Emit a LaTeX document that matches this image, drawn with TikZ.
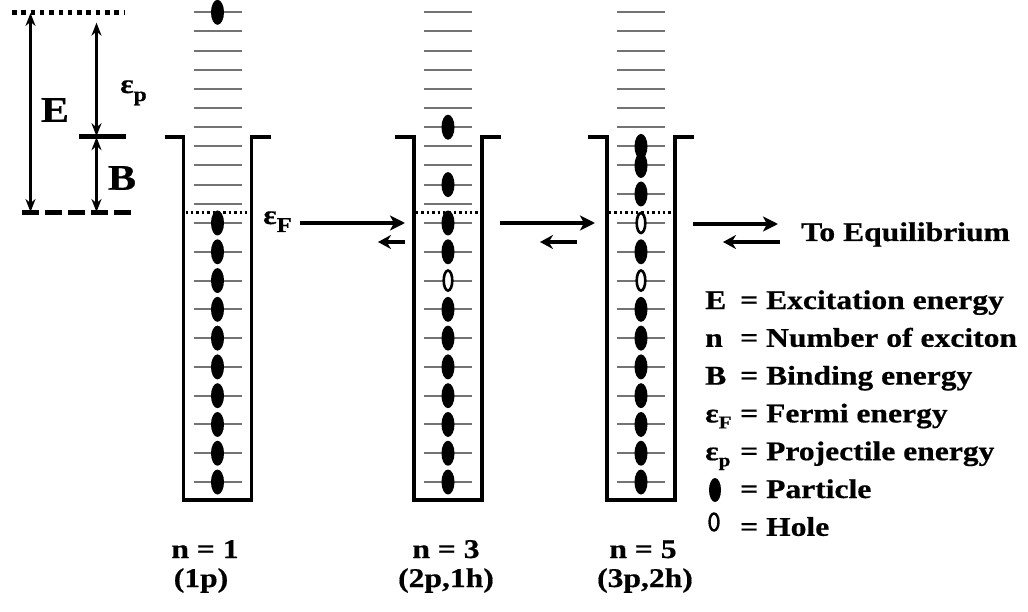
\documentclass[tikz,border=0pt]{standalone}
\usepackage{fontspec}
\setmainfont{Liberation Serif}[FakeStretch=1.17,FakeBold=0.6]
\usetikzlibrary{arrows.meta}

\begin{document}
\begin{tikzpicture}[x=1pt,y=-1pt,
  level/.style={draw=black!55, line width=2pt},
  wall/.style={draw=black, line width=3.6pt, line join=miter},
  fermi/.style={draw=black, line width=2.3pt, dash pattern=on 2.4pt off 3pt},
  hole/.style={draw=black, fill=white, line width=2.6pt},
  scalearrow/.style={line width=2.8pt, {Stealth[length=13pt,width=10pt]}-{Stealth[length=13pt,width=10pt]}},
  fwd/.style={line width=4.4pt, -{Stealth[length=15pt,width=15pt,inset=4pt]}},
  bwd/.style={line width=4.8pt, -{Stealth[length=13pt,width=14pt]}},
  txt/.style={inner sep=0pt, font=\fontsize{27}{30}\selectfont\bfseries},
  big/.style={inner sep=0pt, font=\fontsize{36}{40}\selectfont\bfseries},
]
\useasboundingbox (0,0) rectangle (1028,612);
\fill[white] (0,0) rectangle (1028,612);

% ---------- energy scale ----------
\draw[line width=4.5pt, dash pattern=on 4.5pt off 4.8pt] (12,12.7) -- (125,12.7);
\draw[line width=4.5pt, dash pattern=on 17pt off 6pt] (22,212.3) -- (135,212.3);
\draw[line width=4.5pt] (79,136.7) -- (126,136.7);
\coordinate (Etop) at (30.5,13);
\coordinate (Ebot) at (30.5,212);
\coordinate (ptop) at (96.5,22.7);
\coordinate (pbot) at (96.5,136.2);
\coordinate (Btop) at (96.5,137.2);
\coordinate (Bbot) at (96.5,212);
\draw[scalearrow] (Etop) -- (Ebot);
\draw[scalearrow] (ptop) -- (pbot);
\draw[scalearrow] (Btop) -- (Bbot);
\node[big] (Elab) at (55,110) {E};
\node[big] (Blab) at (122,178) {B};
\node[txt, anchor=base west] (eplab) at (120,93)
  {ε\raisebox{-8pt}{\fontsize{20}{20}\selectfont p}};

% ---------- wells ----------
\foreach \c in {217.5,448,641} {
  \draw[wall] (\c-53,137) -- (\c-34,137) -- (\c-34,500) -- (\c+34,500) -- (\c+34,137) -- (\c+53,137);
  \draw[fermi] (\c-32,212.5) -- (\c+32,212.5);
  \foreach \j in {0,...,9}
    \draw[level] (\c-24,223+28.78*\j) -- (\c+24,223+28.78*\j);
}
\foreach \c in {217.5,448}
  \foreach \i in {0,...,10}
    \draw[level] (\c-24,12.3+19.15*\i) -- (\c+24,12.3+19.15*\i);
\foreach \i in {0,...,8}
  \draw[level] (617,12.3+19.15*\i) -- (665,12.3+19.15*\i);
\draw[level] (617,194) -- (665,194);

% well 1: one particle lifted above the Fermi level
\fill (217.5,12.3) ellipse (6.5 and 12.5);
\foreach \j in {0,...,9}
  \fill (217.5,223+28.78*\j) ellipse (6.5 and 12.5);

% well 2: two particles above, one hole below
\fill (448,127.2) ellipse (6.5 and 12.5);
\fill (448,184.6) ellipse (6.5 and 12.5);
\foreach \j in {0,1,3,4,5,6,7,8,9}
  \fill (448,223+28.78*\j) ellipse (6.5 and 12.5);
\draw[hole] (448,223+28.78*2) ellipse (4.3 and 10);

% well 3: three particles above, two holes below
\fill (641,146.4) ellipse (6.5 and 12.5);
\fill (641,165.5) ellipse (6.5 and 12.5);
\fill (641,194) ellipse (6.5 and 12.5);
\foreach \j in {1,3,4,5,6,7,8,9}
  \fill (641,223+28.78*\j) ellipse (6.5 and 12.5);
\draw[hole] (641,223) ellipse (4.3 and 10);
\draw[hole] (641,223+28.78*2) ellipse (4.3 and 10);

\node[txt, anchor=base west] (eFlab) at (263,224)
  {ε\raisebox{-8pt}{\fontsize{21}{21}\selectfont F}};

% ---------- transitions ----------
\coordinate (a1s) at (300,223);  \coordinate (a1e) at (405,223);
\coordinate (b1s) at (405,242);  \coordinate (b1e) at (378,242);
\coordinate (a2s) at (500,223);  \coordinate (a2e) at (595,223);
\coordinate (b2s) at (577,242);  \coordinate (b2e) at (540,242);
\coordinate (a3s) at (693,224);  \coordinate (a3e) at (778,224);
\coordinate (b3s) at (780,242);  \coordinate (b3e) at (723,242);
\draw[fwd] (a1s) -- (a1e);
\draw[bwd] (b1s) -- (b1e);
\draw[fwd] (a2s) -- (a2e);
\draw[bwd] (b2s) -- (b2e);
\draw[fwd] (a3s) -- (a3e);
\draw[bwd] (b3s) -- (b3e);
\node[txt, anchor=base west] (toeq) at (801,241) {To Equilibrium};

% ---------- legend ----------
\node[txt, anchor=base west] (kE) at (705,309) {E};
\node[txt, anchor=base west] (vE) at (740,309) {= Excitation energy};
\node[txt, anchor=base west] (kn) at (705,346.8) {n};
\node[txt, anchor=base west] (vn) at (740,346.8) {= Number of exciton};
\node[txt, anchor=base west] (kB) at (705,384.6) {B};
\node[txt, anchor=base west] (vB) at (740,384.6) {= Binding energy};
\node[txt, anchor=base west] (kF) at (705,422.4)
  {ε\raisebox{-6pt}{\fontsize{18}{18}\selectfont F}};
\node[txt, anchor=base west] (vF) at (740,422.4) {= Fermi energy};
\node[txt, anchor=base west] (kp) at (705,460.2)
  {ε\raisebox{-6pt}{\fontsize{18}{18}\selectfont p}};
\node[txt, anchor=base west] (vp) at (740,460.2) {= Projectile energy};
\fill (715,490) ellipse (6 and 12);
\node[txt, anchor=base west] (vpart) at (740,498) {= Particle};
\draw[line width=2.4pt] (714,522) ellipse (4.5 and 8.5);
\node[txt, anchor=base west] (vhole) at (740,535.8) {= Hole};

% ---------- exciton numbers ----------
\node[txt, anchor=base] (n1) at (205,558) {n = 1};
\node[txt, anchor=base] (c1) at (201,587) {(1p)};
\node[txt, anchor=base] (n3) at (446,558) {n = 3};
\node[txt, anchor=base] (c3) at (446,587) {(2p,1h)};
\node[txt, anchor=base] (n5) at (643,558) {n = 5};
\node[txt, anchor=base] (c5) at (645,587) {(3p,2h)};
\end{tikzpicture}
\end{document}
